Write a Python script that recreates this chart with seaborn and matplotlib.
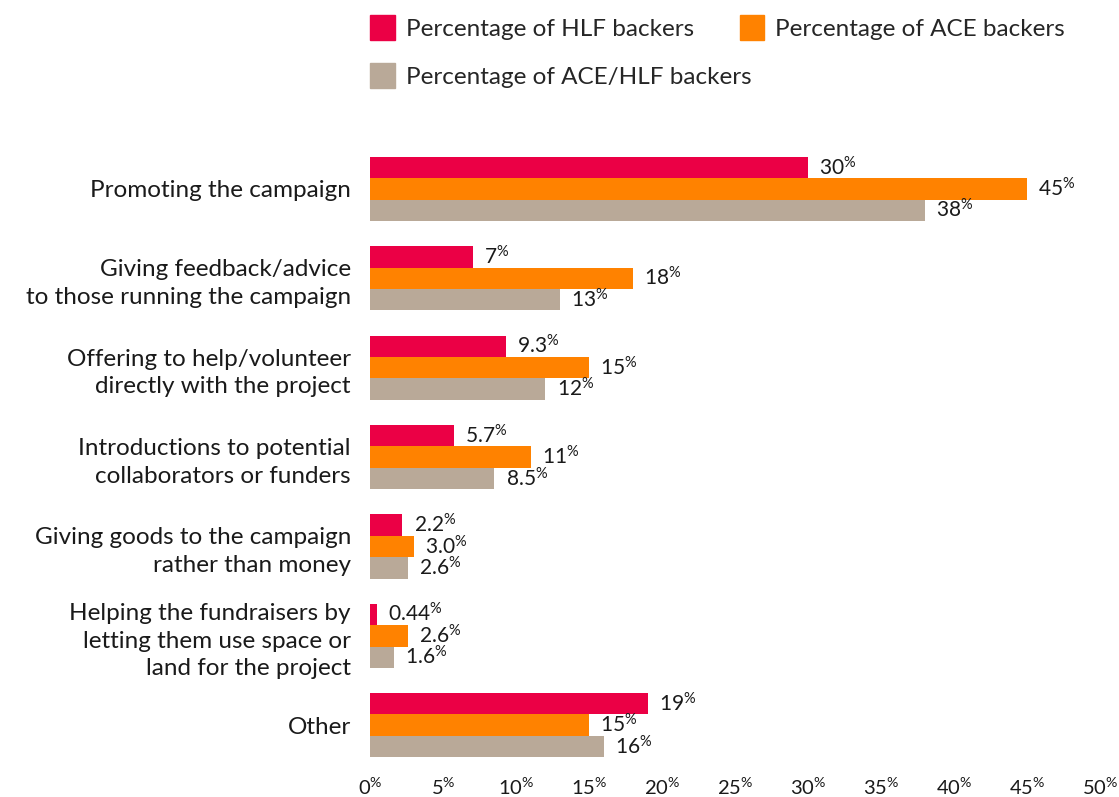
import pandas as pd
import matplotlib.pyplot as plt
import seaborn as sns
from matplotlib.patches import Patch

categories = [
    "Promoting the campaign",
    "Giving feedback/advice\nto those running the campaign",
    "Offering to help/volunteer\ndirectly with the project",
    "Introductions to potential\ncollaborators or funders",
    "Giving goods to the campaign\nrather than money",
    "Helping the fundraisers by\nletting them use space or\nland for the project",
    "Other",
]
series = ["Percentage of HLF backers", "Percentage of ACE backers", "Percentage of ACE/HLF backers"]
hlf = [30, 7, 9.3, 5.7, 2.2, 0.44, 19]
ace = [45, 18, 15, 11, 3.0, 2.6, 15]
both = [38, 13, 12, 8.5, 2.6, 1.6, 16]
hlf_txt = ["30", "7", "9.3", "5.7", "2.2", "0.44", "19"]
ace_txt = ["45", "18", "15", "11", "3.0", "2.6", "15"]
both_txt = ["38", "13", "12", "8.5", "2.6", "1.6", "16"]
xticks = [0, 5, 10, 15, 20, 25, 30, 35, 40, 45, 50]
colors = ["#EB0045", "#FF8200", "#B9A998"]

df = pd.DataFrame({
    "cat": categories * 3,
    "series": [series[0]] * 7 + [series[1]] * 7 + [series[2]] * 7,
    "val": hlf + ace + both,
})

sns.set_style("white")
plt.rcParams["font.family"] = ["Lato", "DejaVu Sans"]
plt.rcParams["mathtext.fontset"] = "custom"
plt.rcParams["mathtext.rm"] = "Lato"
plt.rcParams["mathtext.it"] = "Lato"

fig = plt.figure(figsize=(11.19, 7.97), dpi=100)
ax = fig.add_axes([0.331, 0.034, 0.652, 0.785])

sns.barplot(data=df, y="cat", x="val", hue="series", palette=colors,
            saturation=1, width=0.72, orient="h", ax=ax, legend=False,
            linewidth=0)

def pct(s):
    return s + r"$^{\mathregular{\%}}$"

for cont, txt in zip(ax.containers, [hlf_txt, ace_txt, both_txt]):
    ax.bar_label(cont, labels=[pct(t) for t in txt], padding=8,
                 fontsize=15, color="#1a1a1a")

ax.set_xlim(0, 50)
ax.set_ylim(6.5, -0.5)
ax.set_xticks(xticks)
ax.set_xticklabels([pct(str(t)) for t in xticks], fontsize=14.5, color="#1a1a1a")
ax.set_yticklabels(categories, fontsize=17.5, color="#1a1a1a", linespacing=1.38)
ax.tick_params(axis="y", length=0, pad=14)
ax.tick_params(axis="x", length=0, pad=5)
ax.set_xlabel("")
ax.set_ylabel("")
sns.despine(ax=ax, left=True, bottom=True)

leg_kw = dict(loc="upper left", frameon=False, fontsize=17.5, handlelength=1.0,
              handleheight=1.2, handletextpad=0.45, columnspacing=1.9,
              borderaxespad=0, borderpad=0)
fig.legend(handles=[Patch(color=colors[0], label=series[0]),
                    Patch(color=colors[1], label=series[1])],
           ncol=2, bbox_to_anchor=(0.331, 0.981), **leg_kw)
fig.legend(handles=[Patch(color=colors[2], label=series[2])],
           ncol=1, bbox_to_anchor=(0.331, 0.921), **leg_kw)

fig.savefig("out.png", dpi=100)
